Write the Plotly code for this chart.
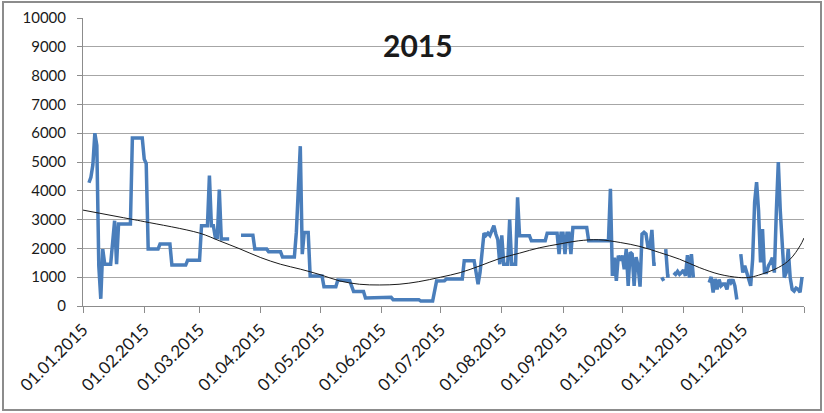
import pandas as pd
import plotly.graph_objects as go

# day offset from 01.01.2015 and measured value (None = gap)
day = [3, 4, 5, 6, 7, 8, 9, 10, 11, 14, 16, 17, 18, 24, 25, 30, 31, 32, 33, 38, 39, 44, 45, 52, 53, 59,
       60, 63, 64, 65, 66, 67, 68, 69, 70, 74,
       77,
       80, 86, 87, 93, 94, 100, 101, 107, 108, 110, 111, 112, 114, 115, 121, 122, 128, 129, 135, 137,
       142, 143, 156, 157, 170, 171, 177, 179, 183, 184, 192, 193, 198, 200, 201, 203, 204, 205, 206,
       207, 208, 209, 210, 211, 212, 213, 215, 216, 217, 219, 220, 221, 226, 227, 234, 235, 240, 241,
       242, 243, 244, 245, 246, 247, 248, 255, 256, 266, 267, 268, 269, 270, 271, 272, 273, 274, 275,
       276, 277, 278, 279, 280, 281, 282, 283, 284, 285, 286, 287, 288, 289, 290,
       291,
       293, 294,
       294.5,
       295, 296, 297,
       298,
       299, 300, 301, 302, 303, 304, 305, 306, 307, 308, 309,
       313,
       317, 318, 319, 320, 321, 322, 323, 324, 325, 326, 327, 328, 329, 330, 331,
       332,
       333, 334, 335, 336, 337, 338, 339, 340, 341, 342, 343, 344, 345, 346, 347, 348, 349, 350, 351,
       352, 353, 354, 355, 356, 357, 358, 359, 360, 361, 362, 363, 364]
value = [4280, 4470, 4900, 6000, 5575, 1390, 250, 1975, 1450, 1450, 2960, 1450, 2850, 2850, 5830, 5830,
         5100, 4950, 1975, 1975, 2150, 2150, 1420, 1420, 1590, 1590,
         2790, 2790, 4530, 2790, 2790, 2380, 2380, 4040, 2330, 2330,
         None,
         2460, 2460, 1975, 1975, 1880, 1880, 1700, 1700, 2555, 5550, 1800, 2555, 2555, 1045, 1045, 670,
         670, 900, 880, 500, 500, 280, 300, 220, 220, 170, 170, 870, 880, 940, 940, 1570, 1570, 755,
         1160, 2530, 2450, 2530, 2450, 2600, 2790, 2500, 2300, 1450, 2450, 1450, 1450, 3000, 1450,
         1450, 3775, 2440, 2440, 2265, 2265, 2530, 2530, 1800, 2530, 2530, 1800, 2530, 2530, 1800,
         2730, 2730, 2265, 2265, 4070, 1045, 1680, 870, 1750, 1580, 1750, 1280, 1975, 700, 1860, 1800,
         700, 1700, 1400, 670, 2500, 2560, 2500, 2040, 2040, 2640, 1450, 1450,
         None,
         990, 870,
         None,
         1975, 1045, 1045,
         None,
         1160, 1100, 1200, 1100, 1160, 1250, 1045, 1765, 990, 1800, 990,
         None,
         810, 1010, 465, 940, 580, 920, 700, 760, 760, 580, 920, 810, 920, 700, 230,
         None,
         1800, 1160, 1400, 1160, 990, 700, 1625, 3600, 4300, 3300, 1510, 2670, 1160, 1160, 1400, 1510,
         1680, 1160, 3300, 5000, 3300, 1975, 990, 1160, 1975, 990, 580, 520, 620, 580, 480, 1010]

# trend line
trend_day = [0, 24, 31, 59, 69, 79, 90, 100, 110, 120, 130, 140, 150, 160, 170, 181, 191, 201, 211,
             221, 231, 241, 251, 261, 272, 282, 292, 302, 312, 322, 332, 337, 342, 352, 358, 363, 365]
trend_val = [3330, 3020, 2930, 2530, 2265, 1995, 1680, 1450, 1280, 1090, 870, 755, 730, 755, 845, 1000,
             1160, 1395, 1650, 1835, 2020, 2150, 2265, 2300, 2205, 2065, 1855, 1625, 1335, 1105, 990,
             990, 1070, 1335, 1625, 2090, 2360]

month_ticks = ["2015-%02d-01" % m for m in range(1, 13)] + ["2016-01-01"]
month_text = ["01.%02d.2015" % m for m in range(1, 13)] + [""]

start = pd.Timestamp("2015-01-01")
x_data = [start + pd.Timedelta(days=d) for d in day]
x_trend = [start + pd.Timedelta(days=d) for d in trend_day]

fig = go.Figure()
fig.add_trace(go.Scatter(x=x_data, y=value, mode="lines", connectgaps=False,
                         line=dict(color="#4A7EBB", width=3.5), hoverinfo="skip"))
fig.add_trace(go.Scatter(x=x_trend, y=trend_val, mode="lines",
                         line=dict(color="#1a1a1a", width=1, shape="spline", smoothing=1.0),
                         hoverinfo="skip"))

L, R, T, B = 83, 804, 18, 306
W, H = 824, 413
pw, ph = R - L, B - T

def px(x):
    return (x - L) / pw

def py(y):
    return (B - y) / ph

fig.update_layout(
    width=W, height=H,
    margin=dict(l=L, r=W - R, t=T, b=H - B, pad=0),
    paper_bgcolor="white", plot_bgcolor="white",
    showlegend=False,
    font=dict(family="Lato, Open Sans, sans-serif", color="#1a1a1a"),
    xaxis=dict(type="date", range=["2015-01-01", "2016-01-01"], automargin=False,
               tickvals=month_ticks, ticktext=month_text, tickangle=-45,
               tickfont=dict(size=17), ticks="outside", ticklen=6, tickcolor="#8c8c8c",
               showline=True, linecolor="#8c8c8c", linewidth=1, showgrid=False, zeroline=False),
    yaxis=dict(range=[0, 10000], dtick=1000, tickformat="d", automargin=False,
               tickfont=dict(size=15), ticklabelstandoff=8,
               ticks="outside", ticklen=5, tickcolor="#8c8c8c",
               showline=True, linecolor="#8c8c8c", linewidth=1,
               showgrid=True, gridcolor="#a6a6a6", gridwidth=1, zeroline=False),
    annotations=[dict(text="<b>2015</b>", x=px(418), y=py(45), xref="paper", yref="paper",
                      showarrow=False, font=dict(size=30, color="#1a1a1a",
                                                 family="Lato, Open Sans, sans-serif"),
                      xanchor="center", yanchor="middle")],
    shapes=[dict(type="rect", xref="paper", yref="paper",
                 x0=px(3), x1=px(821), y0=py(410), y1=py(2),
                 line=dict(color="#8c8c8c", width=2), fillcolor="rgba(0,0,0,0)", layer="below")],
)

fig.write_html("out.html", config={"displayModeBar": False, "staticPlot": True},
               post_script="document.body.style.margin='0';")
